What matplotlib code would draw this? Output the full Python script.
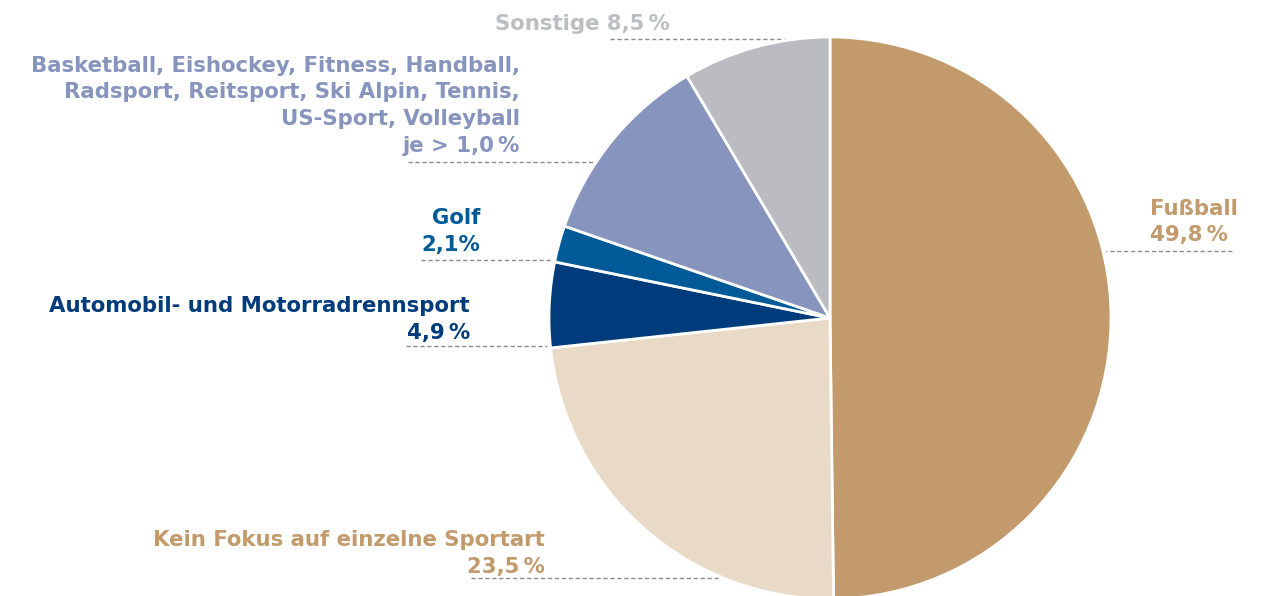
import numpy as np
import matplotlib.pyplot as plt

# Anteile (Uhrzeigersinn ab 12 Uhr)
sportarten = ['Fußball', 'Kein Fokus auf einzelne Sportart', 'Automobil- und Motorradrennsport',
              'Golf', 'Basketball, Eishockey, ...', 'Sonstige']
anteile = [49.8, 23.5, 4.9, 2.1, 11.2, 8.5]
farben = ['#C29A6B', '#E8DAC7', '#003C7B', '#005A98', '#8794BD', '#BBBCC1']

# Beschriftungen: Zeilen, Textfarbe
labels = [
    (['Fußball', '49,8\u2009%'], '#C29A6B'),
    (['Kein Fokus auf einzelne Sportart', '23,5\u2009%'], '#C29A6B'),
    (['Automobil- und Motorradrennsport', '4,9\u2009%'], '#003C7B'),
    (['Golf', '2,1%'], '#005A98'),
    (['Basketball, Eishockey, Fitness, Handball,', 'Radsport, Reitsport, Ski Alpin, Tennis,',
      'US-Sport, Volleyball', 'je > 1,0\u2009%'], '#8794BD'),
    (['Sonstige 8,5\u2009%'], '#BDBEC2'),
]

W, H = 1268, 596
fig = plt.figure(figsize=(W / 100, H / 100), dpi=100)
ax = fig.add_axes([0, 0, 1, 1])

cx, cy, r = 830, H - 318, 281
ax.pie(anteile, colors=farben, startangle=90, counterclock=False, center=(cx, cy), radius=r,
       wedgeprops=dict(edgecolor='white', linewidth=2), frame=True)
ax.set_xlim(0, W)
ax.set_ylim(0, H)
ax.set_aspect('equal')
ax.axis('off')

fam = ['DejaVu Sans']
fs = 15.3
step = 26.5

# (x Textanker, y erste Zeile (px von oben), ha, Linie x-Start, Linie y)
layout = [
    (1150, 209, 'left', 1232, 251),
    (545, 540, 'right', 471, 578),
    (470, 306, 'right', 406, 346),
    (480, 218, 'right', 421, 260),
    (520, 66, 'right', 408, 162),
    (670, 24, 'right', 610, 39),
]

for (zeilen, col), (tx, ty, ha, lx, ly) in zip(labels, layout):
    for i, z in enumerate(zeilen):
        ax.text(tx, H - (ty + i * step), z, ha=ha, va='center', color=col,
                fontsize=fs, fontweight='bold', family=fam)
    # gestrichelte Linie bis kurz vor den Kreisrand
    dy = (H - ly) - cy
    xe = np.sqrt(max(r ** 2 - dy ** 2, 0)) + 3
    x_edge = cx + xe if ha == 'left' else cx - xe
    ax.plot([lx, x_edge], [H - ly, H - ly], color='#8A8A8A', lw=1, ls=(0, (3, 2)), zorder=0)

fig.savefig('out.png', dpi=100)
